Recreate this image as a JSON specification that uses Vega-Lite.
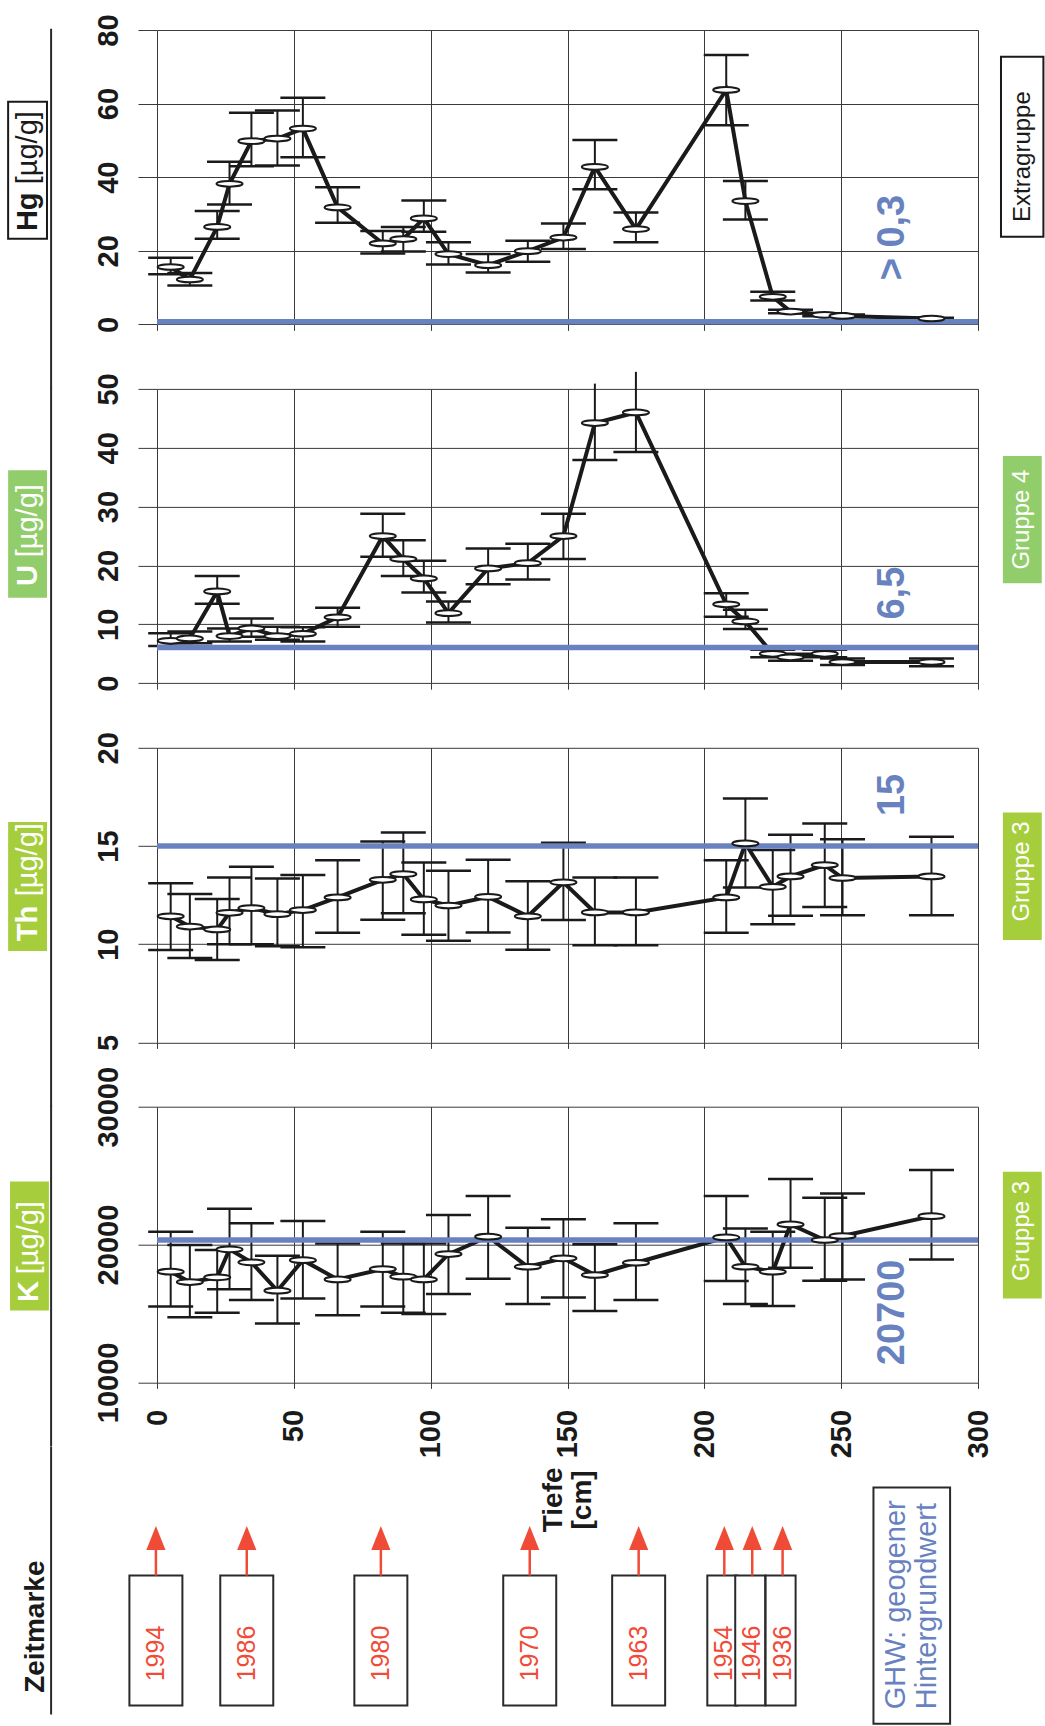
{
  "$schema": "https://vega.github.io/schema/vega-lite/v6.json",
  "padding": {"left": 7, "top": 13, "right": 0, "bottom": 0},
  "background": "white",
  "spacing": 63.9,
  "bounds": "flush",
  "config": {
    "font": "Liberation Sans",
    "view": {"stroke": null},
    "axis": {"grid": true, "gridColor": "#3a3a3a", "gridWidth": 1, "gridOpacity": 1, "domain": false, "tickColor": "#3a3a3a", "tickWidth": 1, "labelFont": "Liberation Sans", "labelFontWeight": "bold", "labelFontSize": 29, "labelColor": "#1a1a1a", "labelFlush": false, "labelOverlap": false, "labelBound": false}
  },
  "datasets": {
    "hg": [
      {"d":5,"v":15.6,"lo":13.6,"hi":18.1},{"d":12,"v":12.2,"lo":10.6,"hi":14.0},{"d":22,"v":26.5,"lo":23.3,"hi":30.8},{"d":26.5,"v":38.2,"lo":32.6,"hi":44.2},{"d":34.5,"v":49.8,"lo":43.0,"hi":57.5},{"d":44,"v":50.5,"lo":43.2,"hi":58.1},{"d":53.3,"v":53.2,"lo":45.4,"hi":61.6},{"d":66,"v":31.8,"lo":27.6,"hi":37.3},{"d":82.5,"v":22.0,"lo":19.3,"hi":25.4},{"d":90,"v":23.2,"lo":19.8,"hi":26.5},{"d":97.5,"v":28.8,"lo":25.2,"hi":33.7},{"d":106.5,"v":19.1,"lo":16.3,"hi":22.3},{"d":121,"v":16.1,"lo":14.1,"hi":19.1},{"d":135.5,"v":19.9,"lo":17.0,"hi":22.7},{"d":148.5,"v":23.6,"lo":20.5,"hi":27.4},{"d":160,"v":42.8,"lo":36.7,"hi":50.1},{"d":175,"v":25.9,"lo":22.3,"hi":30.4},{"d":208,"v":63.7,"lo":54.1,"hi":73.2},{"d":215,"v":33.5,"lo":28.5,"hi":39.0},{"d":225,"v":7.5,"lo":6.5,"hi":8.9},{"d":231.5,"v":3.5,"lo":3.0,"hi":4.0},{"d":244,"v":2.6,"lo":2.2,"hi":3.0},{"d":250.5,"v":2.3,"lo":2.0,"hi":2.7},{"d":283,"v":1.6,"lo":1.4,"hi":1.8}
    ],
    "u": [
      {"d":5,"v":7.2,"lo":6.3,"hi":8.5},{"d":12,"v":7.6,"lo":6.8,"hi":8.8},{"d":22,"v":15.6,"lo":13.5,"hi":18.2},{"d":26.5,"v":8.0,"lo":7.1,"hi":9.3},{"d":34.5,"v":9.3,"lo":7.9,"hi":11.0},{"d":44,"v":8.0,"lo":7.4,"hi":9.6},{"d":53.3,"v":8.4,"lo":7.1,"hi":9.5},{"d":66,"v":11.2,"lo":9.6,"hi":12.8},{"d":82.5,"v":25.0,"lo":21.5,"hi":28.8},{"d":90,"v":21.1,"lo":18.2,"hi":24.3},{"d":97.5,"v":17.8,"lo":15.4,"hi":20.8},{"d":106.5,"v":11.9,"lo":10.3,"hi":13.9},{"d":121,"v":19.5,"lo":16.8,"hi":22.9},{"d":135.5,"v":20.4,"lo":17.6,"hi":23.7},{"d":148.5,"v":25.0,"lo":21.1,"hi":28.8},{"d":160,"v":44.2,"lo":37.9,"hi":50.9},{"d":175,"v":46.0,"lo":39.3,"hi":52.9},{"d":208,"v":13.4,"lo":11.3,"hi":15.3},{"d":215,"v":10.5,"lo":9.2,"hi":12.5},{"d":225,"v":5.0,"lo":4.4,"hi":5.7},{"d":231.5,"v":4.4,"lo":3.8,"hi":5.0},{"d":244,"v":5.0,"lo":4.4,"hi":5.7},{"d":250.5,"v":3.6,"lo":3.1,"hi":4.2},{"d":283,"v":3.6,"lo":2.9,"hi":4.2}
    ],
    "th": [
      {"d":5,"v":11.42,"lo":9.7,"hi":13.1},{"d":12,"v":10.9,"lo":9.3,"hi":12.55},{"d":22,"v":10.75,"lo":9.2,"hi":12.3},{"d":26.5,"v":11.6,"lo":10.0,"hi":13.4},{"d":34.5,"v":11.84,"lo":10.0,"hi":13.94},{"d":44,"v":11.53,"lo":9.9,"hi":13.35},{"d":53.3,"v":11.74,"lo":9.84,"hi":13.52},{"d":66,"v":12.38,"lo":10.58,"hi":14.28},{"d":82.5,"v":13.28,"lo":11.24,"hi":15.23},{"d":90,"v":13.57,"lo":11.57,"hi":15.69},{"d":97.5,"v":12.28,"lo":10.48,"hi":14.16},{"d":106.5,"v":11.97,"lo":10.17,"hi":13.74},{"d":121,"v":12.41,"lo":10.6,"hi":14.3},{"d":135.5,"v":11.42,"lo":9.72,"hi":13.2},{"d":148.5,"v":13.15,"lo":11.23,"hi":15.16},{"d":160,"v":11.62,"lo":9.95,"hi":13.4},{"d":175,"v":11.62,"lo":9.95,"hi":13.4},{"d":208,"v":12.38,"lo":10.58,"hi":14.28},{"d":215,"v":15.13,"lo":12.89,"hi":17.42},{"d":225,"v":12.92,"lo":11.02,"hi":14.79},{"d":231.5,"v":13.45,"lo":11.45,"hi":15.57},{"d":244,"v":14.03,"lo":11.9,"hi":16.15},{"d":250.5,"v":13.37,"lo":11.47,"hi":15.35},{"d":283,"v":13.45,"lo":11.47,"hi":15.47}
    ],
    "k": [
      {"d":5,"v":18030,"lo":15510,"hi":20930},{"d":12,"v":17280,"lo":14720,"hi":19960},{"d":22,"v":17620,"lo":15060,"hi":19600},{"d":26.5,"v":19650,"lo":16750,"hi":22600},{"d":34.5,"v":18710,"lo":15970,"hi":21540},{"d":44,"v":16650,"lo":14280,"hi":19190},{"d":53.3,"v":18870,"lo":16090,"hi":21700},{"d":66,"v":17470,"lo":14880,"hi":20080},{"d":82.5,"v":18220,"lo":15510,"hi":20930},{"d":90,"v":17670,"lo":15060,"hi":20080},{"d":97.5,"v":17470,"lo":14960,"hi":20080},{"d":106.5,"v":19310,"lo":16410,"hi":22140},{"d":121,"v":20570,"lo":17520,"hi":23520},{"d":135.5,"v":18390,"lo":15680,"hi":21220},{"d":148.5,"v":19000,"lo":16150,"hi":21830},{"d":160,"v":17790,"lo":15180,"hi":20030},{"d":175,"v":18680,"lo":15970,"hi":21540},{"d":208,"v":20520,"lo":17350,"hi":23520},{"d":215,"v":18390,"lo":15680,"hi":21170},{"d":225,"v":18030,"lo":15540,"hi":20930},{"d":231.5,"v":21460,"lo":18320,"hi":24750},{"d":244,"v":20330,"lo":17380,"hi":23400},{"d":250.5,"v":20620,"lo":17470,"hi":23710},{"d":283,"v":22060,"lo":18920,"hi":25400}
    ],
    "marks": [
      {"year":"1994","depth":-0.4},{"year":"1986","depth":32.8},{"year":"1980","depth":81.8},{"year":"1970","depth":136.2},{"year":"1963","depth":176.0},{"year":"1954","depth":207.3},{"year":"1946","depth":217.5},{"year":"1936","depth":228.6}
    ]
  },
  "vconcat": [
    {
      "width": 821, "height": 294.4,
      "layer": [
        {"data": {"name": "hg"}, "mark": {"type": "rule", "color": "#1a1a1a", "strokeWidth": 2},
         "encoding": {
           "x": {"field": "d", "type": "quantitative", "scale": {"domain": [0, 300], "nice": false, "zero": false}, "axis": {"values": [0,50,100,150,200,250,300], "labels": false, "tickSize": 6, "title": null}},
           "y": {"field": "lo", "type": "quantitative", "scale": {"domain": [0, 80], "nice": false, "zero": false}, "axis": {"values": [0,20,40,60,80], "tickSize": 19, "labelAngle": 270, "labelAlign": "center", "labelBaseline": "alphabetic", "labelPadding": 21, "format": "d", "title": null}},
           "y2": {"field": "hi"}}},
        {"data": {"name": "hg"}, "mark": {"type": "rule", "color": "#1a1a1a", "strokeWidth": 2.5, "xOffset": -22.5, "x2Offset": 22.5},
         "encoding": {"x": {"field": "d", "type": "quantitative"}, "x2": {"field": "d"}, "y": {"field": "lo", "type": "quantitative"}}},
        {"data": {"name": "hg"}, "mark": {"type": "rule", "color": "#1a1a1a", "strokeWidth": 2.5, "xOffset": -22.5, "x2Offset": 22.5},
         "encoding": {"x": {"field": "d", "type": "quantitative"}, "x2": {"field": "d"}, "y": {"field": "hi", "type": "quantitative"}}},
        {"data": {"name": "hg"}, "mark": {"type": "line", "color": "#1a1a1a", "strokeWidth": 4},
         "encoding": {"x": {"field": "d", "type": "quantitative"}, "y": {"field": "v", "type": "quantitative"}}},
        {"data": {"values": [{}]}, "mark": {"type": "rule", "color": "#6882c0", "strokeWidth": 5.5},
         "encoding": {"x": {"datum": 0}, "x2": {"datum": 300}, "y": {"datum": 0.73}}},
        {"data": {"name": "hg"}, "mark": {"type": "point", "shape": "M-1,0A1,0.22,0,1,1,1,0A1,0.22,0,1,1,-1,0Z", "size": 676, "filled": true, "fill": "white", "stroke": "#1a1a1a", "strokeWidth": 2, "opacity": 1},
         "encoding": {"x": {"field": "d", "type": "quantitative"}, "y": {"field": "v", "type": "quantitative"}}},
        {"data": {"values": [{}]}, "mark": {"type": "rule", "color": "#2a2a2a", "strokeWidth": 2},
         "encoding": {"x": {"datum": -38.7}, "y": {"datum": 80.35}, "y2": {"datum": -17.4}}},
        {"data": {"values": [{}]}, "mark": {"type": "rect", "fill": "white", "stroke": "#1a1a1a", "strokeWidth": 2},
         "encoding": {"x": {"datum": -54.4}, "x2": {"datum": -40.2}, "y": {"datum": 60.5}, "y2": {"datum": 23.3}}},
        {"data": {"values": [{}]}, "mark": {"type": "text", "text": "Hg", "angle": 270, "fontSize": 29, "fontWeight": "bold", "color": "#1a1a1a", "align": "center", "baseline": "middle"},
         "encoding": {"x": {"datum": -47.1}, "y": {"datum": 30.6}}},
        {"data": {"values": [{}]}, "mark": {"type": "text", "text": "[µg/g]", "angle": 270, "fontSize": 29, "color": "#1a1a1a", "align": "center", "baseline": "middle"},
         "encoding": {"x": {"datum": -47.1}, "y": {"datum": 48.0}}},
        {"data": {"values": [{}]}, "mark": {"type": "rect", "fill": "white", "stroke": "#1a1a1a", "strokeWidth": 2},
         "encoding": {"x": {"datum": 308.4}, "x2": {"datum": 323.9}, "y": {"datum": 72.7}, "y2": {"datum": 23.8}}},
        {"data": {"values": [{}]}, "mark": {"type": "text", "text": "Extragruppe", "angle": 270, "fontSize": 24, "color": "#1a1a1a", "align": "center", "baseline": "middle"},
         "encoding": {"x": {"datum": 316.3}, "y": {"datum": 45.6}}},
        {"data": {"values": [{}]}, "mark": {"type": "text", "text": "> 0,3", "angle": 270, "fontSize": 38, "fontWeight": "bold", "color": "#6882c0", "align": "center", "baseline": "middle"},
         "encoding": {"x": {"datum": 268.9}, "y": {"datum": 23.6}}}
      ]
    },
    {
      "width": 821, "height": 294.3,
      "layer": [
        {"data": {"name": "u"}, "mark": {"type": "rule", "color": "#1a1a1a", "strokeWidth": 2},
         "encoding": {
           "x": {"field": "d", "type": "quantitative", "scale": {"domain": [0, 300], "nice": false, "zero": false}, "axis": {"values": [0,50,100,150,200,250,300], "labels": false, "tickSize": 6, "title": null}},
           "y": {"field": "lo", "type": "quantitative", "scale": {"domain": [0, 50], "nice": false, "zero": false}, "axis": {"values": [0,10,20,30,40,50], "tickSize": 19, "labelAngle": 270, "labelAlign": "center", "labelBaseline": "alphabetic", "labelPadding": 21, "format": "d", "title": null}},
           "y2": {"field": "hi"}}},
        {"data": {"name": "u"}, "mark": {"type": "rule", "color": "#1a1a1a", "strokeWidth": 2.5, "xOffset": -22.5, "x2Offset": 22.5},
         "encoding": {"x": {"field": "d", "type": "quantitative"}, "x2": {"field": "d"}, "y": {"field": "lo", "type": "quantitative"}}},
        {"data": {"name": "u"}, "transform": [{"filter": "datum.hi <= 50"}], "mark": {"type": "rule", "color": "#1a1a1a", "strokeWidth": 2.5, "xOffset": -22.5, "x2Offset": 22.5},
         "encoding": {"x": {"field": "d", "type": "quantitative"}, "x2": {"field": "d"}, "y": {"field": "hi", "type": "quantitative"}}},
        {"data": {"name": "u"}, "mark": {"type": "line", "color": "#1a1a1a", "strokeWidth": 4},
         "encoding": {"x": {"field": "d", "type": "quantitative"}, "y": {"field": "v", "type": "quantitative"}}},
        {"data": {"values": [{}]}, "mark": {"type": "rule", "color": "#6882c0", "strokeWidth": 5.5},
         "encoding": {"x": {"datum": 0}, "x2": {"datum": 300}, "y": {"datum": 6.05}}},
        {"data": {"name": "u"}, "mark": {"type": "point", "shape": "M-1,0A1,0.22,0,1,1,1,0A1,0.22,0,1,1,-1,0Z", "size": 676, "filled": true, "fill": "white", "stroke": "#1a1a1a", "strokeWidth": 2, "opacity": 1},
         "encoding": {"x": {"field": "d", "type": "quantitative"}, "y": {"field": "v", "type": "quantitative"}}},
        {"data": {"values": [{}]}, "mark": {"type": "rule", "color": "#2a2a2a", "strokeWidth": 2},
         "encoding": {"x": {"datum": -38.7}, "y": {"datum": 50.2}, "y2": {"datum": -10.9}}},
        {"data": {"values": [{}]}, "mark": {"type": "rect", "fill": "#92cd6b"},
         "encoding": {"x": {"datum": -54.4}, "x2": {"datum": -40.2}, "y": {"datum": 36.2}, "y2": {"datum": 14.5}}},
        {"data": {"values": [{}]}, "mark": {"type": "text", "text": "U", "angle": 270, "fontSize": 29, "fontWeight": "bold", "color": "white", "align": "center", "baseline": "middle"},
         "encoding": {"x": {"datum": -47.1}, "y": {"datum": 18.3}}},
        {"data": {"values": [{}]}, "mark": {"type": "text", "text": "[µg/g]", "angle": 270, "fontSize": 29, "color": "white", "align": "center", "baseline": "middle"},
         "encoding": {"x": {"datum": -47.1}, "y": {"datum": 27.6}}},
        {"data": {"values": [{}]}, "mark": {"type": "rect", "fill": "#92cd6b"},
         "encoding": {"x": {"datum": 309.1}, "x2": {"datum": 323.3}, "y": {"datum": 38.6}, "y2": {"datum": 17.0}}},
        {"data": {"values": [{}]}, "mark": {"type": "text", "text": "Gruppe 4", "angle": 270, "fontSize": 24, "color": "white", "align": "center", "baseline": "middle"},
         "encoding": {"x": {"datum": 316.2}, "y": {"datum": 27.8}}},
        {"data": {"values": [{}]}, "mark": {"type": "text", "text": "6,5", "angle": 270, "fontSize": 38, "fontWeight": "bold", "color": "#6882c0", "align": "center", "baseline": "middle"},
         "encoding": {"x": {"datum": 268.9}, "y": {"datum": 15.3}}}
      ]
    },
    {
      "width": 821, "height": 294.6,
      "layer": [
        {"data": {"name": "th"}, "mark": {"type": "rule", "color": "#1a1a1a", "strokeWidth": 2},
         "encoding": {
           "x": {"field": "d", "type": "quantitative", "scale": {"domain": [0, 300], "nice": false, "zero": false}, "axis": {"values": [0,50,100,150,200,250,300], "labels": false, "tickSize": 6, "title": null}},
           "y": {"field": "lo", "type": "quantitative", "scale": {"domain": [5, 20], "nice": false, "zero": false}, "axis": {"values": [5,10,15,20], "tickSize": 19, "labelAngle": 270, "labelAlign": "center", "labelBaseline": "alphabetic", "labelPadding": 21, "format": "d", "title": null}},
           "y2": {"field": "hi"}}},
        {"data": {"name": "th"}, "mark": {"type": "rule", "color": "#1a1a1a", "strokeWidth": 2.5, "xOffset": -22.5, "x2Offset": 22.5},
         "encoding": {"x": {"field": "d", "type": "quantitative"}, "x2": {"field": "d"}, "y": {"field": "lo", "type": "quantitative"}}},
        {"data": {"name": "th"}, "mark": {"type": "rule", "color": "#1a1a1a", "strokeWidth": 2.5, "xOffset": -22.5, "x2Offset": 22.5},
         "encoding": {"x": {"field": "d", "type": "quantitative"}, "x2": {"field": "d"}, "y": {"field": "hi", "type": "quantitative"}}},
        {"data": {"name": "th"}, "mark": {"type": "line", "color": "#1a1a1a", "strokeWidth": 4},
         "encoding": {"x": {"field": "d", "type": "quantitative"}, "y": {"field": "v", "type": "quantitative"}}},
        {"data": {"values": [{}]}, "mark": {"type": "rule", "color": "#6882c0", "strokeWidth": 5.5},
         "encoding": {"x": {"datum": 0}, "x2": {"datum": 300}, "y": {"datum": 15}}},
        {"data": {"name": "th"}, "mark": {"type": "point", "shape": "M-1,0A1,0.22,0,1,1,1,0A1,0.22,0,1,1,-1,0Z", "size": 676, "filled": true, "fill": "white", "stroke": "#1a1a1a", "strokeWidth": 2, "opacity": 1},
         "encoding": {"x": {"field": "d", "type": "quantitative"}, "y": {"field": "v", "type": "quantitative"}}},
        {"data": {"values": [{}]}, "mark": {"type": "rule", "color": "#2a2a2a", "strokeWidth": 2},
         "encoding": {"x": {"datum": -38.7}, "y": {"datum": 20.05}, "y2": {"datum": 1.74}}},
        {"data": {"values": [{}]}, "mark": {"type": "rect", "fill": "#a6ce3c"},
         "encoding": {"x": {"datum": -54.4}, "x2": {"datum": -40.2}, "y": {"datum": 16.22}, "y2": {"datum": 9.65}}},
        {"data": {"values": [{}]}, "mark": {"type": "text", "text": "Th", "angle": 270, "fontSize": 29, "fontWeight": "bold", "color": "white", "align": "center", "baseline": "middle"},
         "encoding": {"x": {"datum": -47.1}, "y": {"datum": 11.05}}},
        {"data": {"values": [{}]}, "mark": {"type": "text", "text": "[µg/g]", "angle": 270, "fontSize": 29, "color": "white", "align": "center", "baseline": "middle"},
         "encoding": {"x": {"datum": -47.1}, "y": {"datum": 14.3}}},
        {"data": {"values": [{}]}, "mark": {"type": "rect", "fill": "#a6ce3c"},
         "encoding": {"x": {"datum": 309.1}, "x2": {"datum": 323.3}, "y": {"datum": 16.71}, "y2": {"datum": 10.21}}},
        {"data": {"values": [{}]}, "mark": {"type": "text", "text": "Gruppe 3", "angle": 270, "fontSize": 24, "color": "white", "align": "center", "baseline": "middle"},
         "encoding": {"x": {"datum": 316.2}, "y": {"datum": 13.7}}},
        {"data": {"values": [{}]}, "mark": {"type": "text", "text": "15", "angle": 270, "fontSize": 38, "fontWeight": "bold", "color": "#6882c0", "align": "center", "baseline": "middle"},
         "encoding": {"x": {"datum": 268.9}, "y": {"datum": 17.6}}}
      ]
    },
    {
      "width": 821, "height": 275.7,
      "layer": [
        {"data": {"name": "k"}, "mark": {"type": "rule", "color": "#1a1a1a", "strokeWidth": 2},
         "encoding": {
           "x": {"field": "d", "type": "quantitative", "scale": {"domain": [0, 300], "nice": false, "zero": false}, "axis": {"values": [0,50,100,150,200,250,300], "tickSize": 6, "labelAngle": 270, "labelAlign": "right", "labelBaseline": "middle", "labelPadding": 21, "format": "d", "title": ["Tiefe", "[cm]"], "titleAngle": 270, "titleFontSize": 28, "titleFontWeight": "bold", "titleColor": "#1a1a1a", "titleFont": "Liberation Sans", "titleX": 396, "titleY": 117, "titleAlign": "center", "titleBaseline": "middle", "titleLineHeight": 29}},
           "y": {"field": "lo", "type": "quantitative", "scale": {"domain": [10000, 30000], "nice": false, "zero": false}, "axis": {"values": [10000,20000,30000], "tickSize": 19, "labelAngle": 270, "labelAlign": "center", "labelBaseline": "alphabetic", "labelPadding": 21, "format": "d", "title": null}},
           "y2": {"field": "hi"}}},
        {"data": {"name": "k"}, "mark": {"type": "rule", "color": "#1a1a1a", "strokeWidth": 2.5, "xOffset": -22.5, "x2Offset": 22.5},
         "encoding": {"x": {"field": "d", "type": "quantitative"}, "x2": {"field": "d"}, "y": {"field": "lo", "type": "quantitative"}}},
        {"data": {"name": "k"}, "mark": {"type": "rule", "color": "#1a1a1a", "strokeWidth": 2.5, "xOffset": -22.5, "x2Offset": 22.5},
         "encoding": {"x": {"field": "d", "type": "quantitative"}, "x2": {"field": "d"}, "y": {"field": "hi", "type": "quantitative"}}},
        {"data": {"name": "k"}, "mark": {"type": "line", "color": "#1a1a1a", "strokeWidth": 4},
         "encoding": {"x": {"field": "d", "type": "quantitative"}, "y": {"field": "v", "type": "quantitative"}}},
        {"data": {"values": [{}]}, "mark": {"type": "rule", "color": "#6882c0", "strokeWidth": 5.5},
         "encoding": {"x": {"datum": 0}, "x2": {"datum": 300}, "y": {"datum": 20323}}},
        {"data": {"name": "k"}, "mark": {"type": "point", "shape": "M-1,0A1,0.22,0,1,1,1,0A1,0.22,0,1,1,-1,0Z", "size": 676, "filled": true, "fill": "white", "stroke": "#1a1a1a", "strokeWidth": 2, "opacity": 1},
         "encoding": {"x": {"field": "d", "type": "quantitative"}, "y": {"field": "v", "type": "quantitative"}}},
        {"data": {"values": [{}]}, "mark": {"type": "rule", "color": "#2a2a2a", "strokeWidth": 2},
         "encoding": {"x": {"datum": -38.7}, "y": {"datum": 30100}, "y2": {"datum": 5360}}},
        {"data": {"values": [{}]}, "mark": {"type": "rect", "fill": "#a6ce3c"},
         "encoding": {"x": {"datum": -53.7}, "x2": {"datum": -39.5}, "y": {"datum": 24581}, "y2": {"datum": 15224}}},
        {"data": {"values": [{}]}, "mark": {"type": "text", "text": "K", "angle": 270, "fontSize": 29, "fontWeight": "bold", "color": "white", "align": "center", "baseline": "middle"},
         "encoding": {"x": {"datum": -46.6}, "y": {"datum": 16600}}},
        {"data": {"values": [{}]}, "mark": {"type": "text", "text": "[µg/g]", "angle": 270, "fontSize": 29, "color": "white", "align": "center", "baseline": "middle"},
         "encoding": {"x": {"datum": -46.6}, "y": {"datum": 20500}}},
        {"data": {"values": [{}]}, "mark": {"type": "rect", "fill": "#a6ce3c"},
         "encoding": {"x": {"datum": 309.1}, "x2": {"datum": 323.3}, "y": {"datum": 25285}, "y2": {"datum": 16094}}},
        {"data": {"values": [{}]}, "mark": {"type": "text", "text": "Gruppe 3", "angle": 270, "fontSize": 24, "color": "white", "align": "center", "baseline": "middle"},
         "encoding": {"x": {"datum": 316.2}, "y": {"datum": 20990}}},
        {"data": {"values": [{}]}, "mark": {"type": "text", "text": "20700", "angle": 270, "fontSize": 38, "fontWeight": "bold", "color": "#6882c0", "align": "center", "baseline": "middle"},
         "encoding": {"x": {"datum": 268.9}, "y": {"datum": 15078}}}
      ]
    },
    {
      "width": 821, "height": 268,
      "layer": [
        {"data": {"values": [{}]}, "mark": {"type": "rule", "color": "#2a2a2a", "strokeWidth": 2},
         "encoding": {"x": {"datum": -38.7, "scale": {"domain": [0, 300], "nice": false, "zero": false}, "axis": null}, "y": {"datum": 100, "scale": {"domain": [0, 100], "nice": false, "zero": false}, "axis": null}, "y2": {"datum": 0}}},
        {"data": {"values": [{}]}, "mark": {"type": "text", "text": "Zeitmarke", "angle": 270, "fontSize": 28, "fontWeight": "bold", "color": "#1a1a1a", "align": "center", "baseline": "middle"},
         "encoding": {"x": {"datum": -44.2, "axis": null}, "y": {"datum": 32.8, "axis": null}}},
        {"data": {"name": "marks"}, "transform": [{"filter": "datum.depth < 200"}], "mark": {"type": "rect", "fill": "white", "stroke": "#2a2a2a", "strokeWidth": 2, "xOffset": -26.5, "x2Offset": 26.5},
         "encoding": {"x": {"field": "depth", "type": "quantitative", "axis": null}, "x2": {"field": "depth"}, "y": {"datum": 51.9, "axis": null}, "y2": {"datum": 3.4}}},
        {"data": {"name": "marks"}, "transform": [{"filter": "datum.depth >= 200"}], "mark": {"type": "rect", "fill": "white", "stroke": "#2a2a2a", "strokeWidth": 2, "xOffset": -17, "x2Offset": 13},
         "encoding": {"x": {"field": "depth", "type": "quantitative", "axis": null}, "x2": {"field": "depth"}, "y": {"datum": 51.9, "axis": null}, "y2": {"datum": 3.4}}},
        {"data": {"name": "marks"}, "mark": {"type": "rule", "color": "#f04b37", "strokeWidth": 2.5},
         "encoding": {"x": {"field": "depth", "type": "quantitative", "axis": null}, "y": {"datum": 51.9, "axis": null}, "y2": {"datum": 62.5}}},
        {"data": {"name": "marks"}, "mark": {"type": "point", "shape": "M0,-1L0.8,1L-0.8,1Z", "size": 576, "filled": true, "color": "#f04b37", "opacity": 1},
         "encoding": {"x": {"field": "depth", "type": "quantitative", "axis": null}, "y": {"datum": 65.9, "axis": null}}},
        {"data": {"name": "marks"}, "mark": {"type": "text", "angle": 270, "fontSize": 25, "color": "#f04b37", "align": "center", "baseline": "middle"},
         "encoding": {"x": {"field": "depth", "type": "quantitative", "axis": null}, "y": {"datum": 22.8, "axis": null}, "text": {"field": "year"}}},
        {"data": {"values": [{}]}, "mark": {"type": "rect", "fill": "white", "stroke": "#2a2a2a", "strokeWidth": 2},
         "encoding": {"x": {"datum": 261.8, "axis": null}, "x2": {"datum": 289.8}, "y": {"datum": 84.7, "axis": null}, "y2": {"datum": -3.4}}},
        {"data": {"values": [{}]}, "mark": {"type": "text", "text": ["GHW: geogener", "Hintergrundwert"], "angle": 270, "fontSize": 29, "lineHeight": 31, "color": "#6882c0", "align": "left", "baseline": "middle"},
         "encoding": {"x": {"datum": 270.0, "axis": null}, "y": {"datum": 2.0, "axis": null}}}
      ]
    }
  ]
}
